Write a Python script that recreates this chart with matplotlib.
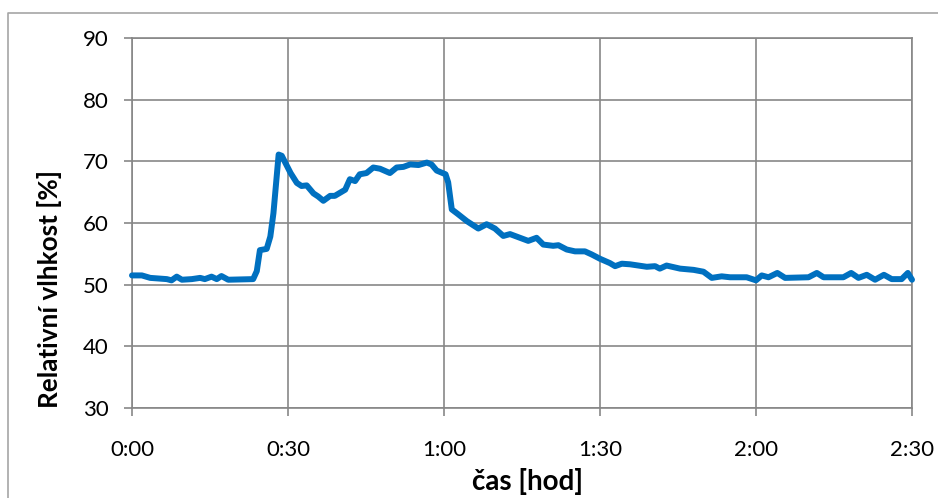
import matplotlib
matplotlib.use("Agg")
import matplotlib.pyplot as plt
from matplotlib.lines import Line2D
from matplotlib.ticker import FuncFormatter, MultipleLocator

# time in minutes since start, relative humidity in %
minutes = [0, 1.9, 3.5, 6.7, 7.6, 8.6, 9.6, 11.5, 13.1, 14.0, 15.3, 16.3, 17.2, 18.5,
           23.3, 24.0, 24.6, 25.9, 26.6, 27.2, 28.2, 28.8, 30.5, 31.7, 32.6, 33.6,
           34.9, 35.8, 36.8, 38.1, 39.0, 41.0, 41.9, 42.9, 43.8, 45.1, 46.4, 47.7,
           49.6, 50.9, 52.2, 53.5, 55.1, 56.7, 57.6, 58.6, 60.3, 60.8, 61.5, 62.6,
           64.4, 66.6, 68.2, 69.8, 71.4, 72.7, 76.2, 77.8, 79.1, 81.0, 82.0, 83.6,
           85.2, 87.1, 88.4, 90.0, 91.9, 92.9, 94.2, 95.8, 99.0, 100.6, 101.5, 102.8,
           105.4, 108.0, 109.9, 111.5, 113.4, 115.0, 118.2, 120.0, 121.1, 122.4,
           124.1, 125.6, 130.1, 131.7, 133.0, 136.8, 138.3, 139.7, 141.3, 142.9,
           144.6, 146.1, 148.0, 149.2, 150.0]
humidity = [51.5, 51.5, 51.1, 50.9, 50.7, 51.3, 50.8, 50.9, 51.1, 50.9, 51.3, 50.9, 51.4, 50.8,
            50.9, 52.2, 55.6, 55.8, 57.8, 61.6, 71.1, 70.9, 68.1, 66.5, 66.0, 66.1,
            64.8, 64.3, 63.6, 64.4, 64.4, 65.4, 67.1, 66.8, 67.9, 68.1, 69.0, 68.8,
            68.1, 69.0, 69.1, 69.5, 69.4, 69.8, 69.5, 68.5, 67.9, 66.6, 62.2, 61.5,
            60.3, 59.1, 59.8, 59.1, 57.9, 58.2, 57.1, 57.6, 56.5, 56.3, 56.4, 55.7,
            55.4, 55.4, 54.9, 54.2, 53.5, 53.0, 53.4, 53.3, 52.9, 53.0, 52.6, 53.1,
            52.6, 52.4, 52.1, 51.1, 51.35, 51.2, 51.2, 50.7, 51.5, 51.2,
            51.9, 51.1, 51.2, 51.9, 51.2, 51.2, 51.9, 51.1, 51.6, 50.8,
            51.6, 50.9, 50.9, 51.9, 50.8]

FONT = "Lato"
GRID = "#878787"

fig = plt.figure(figsize=(9.38, 4.98), dpi=100)
ax = fig.add_axes([132 / 938, 1 - 408 / 498, 780 / 938, 370 / 498])

ax.plot(minutes, humidity, color="#0070C0", linewidth=4.3,
        solid_joinstyle="round", solid_capstyle="round", clip_on=False, zorder=3)

ax.set_xlim(0, 150)
ax.set_ylim(30, 90)
ax.xaxis.set_major_locator(MultipleLocator(30))
ax.yaxis.set_major_locator(MultipleLocator(10))
ax.xaxis.set_major_formatter(FuncFormatter(lambda v, p: f"{int(v) // 60}:{int(v) % 60:02d}"))

ax.grid(True, color=GRID, linewidth=1.2)
ax.set_axisbelow(True)
for s in ax.spines.values():
    s.set_color(GRID)
    s.set_linewidth(1.2)

ax.tick_params(axis="both", direction="out", length=6, width=1.2, color=GRID,
               labelsize=16, labelcolor="black")
ax.tick_params(axis="x", pad=17)
ax.tick_params(axis="y", pad=11)
for lab in ax.get_xticklabels() + ax.get_yticklabels():
    lab.set_fontfamily(FONT)

# axis titles, placed where the original chart has them
fig.text(527 / 938, 1 - 481 / 498, "čas [hod]", fontfamily=FONT, fontsize=20,
         fontweight="bold", ha="center", va="center")
fig.text(50 / 938, 1 - 289 / 498, "Relativní vlhkost [%]", fontfamily=FONT, fontsize=18.8,
         fontweight="bold", ha="center", va="center", rotation=90)

# chart area border (only left and top edges visible in the crop)
x0, y0 = 8 / 938, 1 - 13 / 498
fig.add_artist(Line2D([x0, x0, 1.0], [0.0, y0, y0], transform=fig.transFigure,
                      color="#A6A6A6", linewidth=1.2))

fig.savefig("out.png", dpi=100)
